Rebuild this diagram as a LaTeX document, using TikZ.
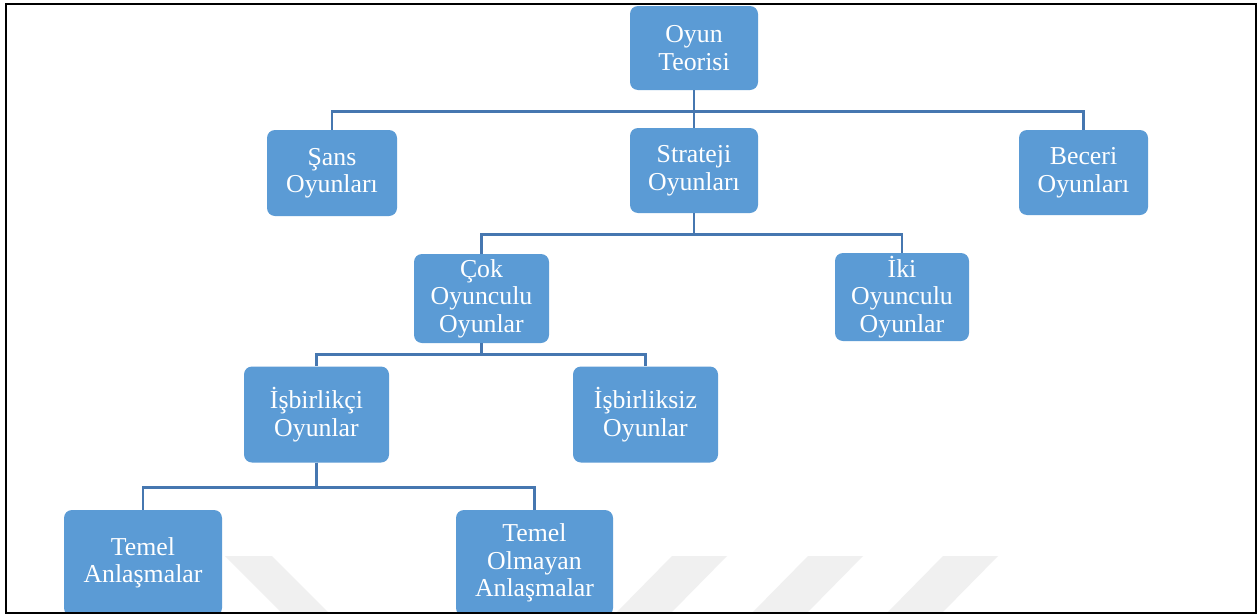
\documentclass[tikz,border=0pt]{standalone}
\usepackage{fontspec}
\setmainfont{Liberation Serif}
\definecolor{boxblue}{HTML}{5B9BD5}
\definecolor{lineblue}{HTML}{4677B0}
\definecolor{wmgray}{HTML}{F0F0F0}
\begin{document}
\begin{tikzpicture}[x=1pt,y=-1pt,
  box/.style={fill=boxblue, rounded corners=8pt, text=white, align=center,
    inner sep=0pt, font=\fontsize{25.8}{27.5}\selectfont},
  conn/.style={draw=lineblue, line width=2.8pt},
  wm/.style={fill=wmgray, draw=none}]
\useasboundingbox (0,0) rectangle (1259,616);
\fill[white] (0,0) rectangle (1259,616);
\begin{scope}
\clip (6,4) rectangle (1256,613);
% watermark
\fill[wm] (225,556) -- (272,556) -- (330,614) -- (283,614) -- cycle;
\fill[wm] (672,556) -- (727,556) -- (670,614) -- (615,614) -- cycle;
\fill[wm] (808,556) -- (863,556) -- (806,614) -- (751,614) -- cycle;
\fill[wm] (943,556) -- (998,556) -- (941,614) -- (886,614) -- cycle;
% nodes
\node[box, minimum width=128pt, minimum height=84pt] (ot) at (694,48) {Oyun\\Teorisi};
\node[box, minimum width=130pt, minimum height=86pt] (sans) at (332,173) {Şans\\Oyunları};
\node[box, minimum width=128pt, minimum height=85pt] (strat) at (694,170.5) {Strateji\\Oyunları};
\node[box, minimum width=129pt, minimum height=85pt] (beceri) at (1083.5,172.5) {Beceri\\Oyunları};
\node[box, minimum width=135pt, minimum height=89pt] (cok) at (481.5,298.5) {Çok\\Oyunculu\\Oyunlar};
\node[box, minimum width=134pt, minimum height=88pt] (iki) at (902,297) {İki\\Oyunculu\\Oyunlar};
\node[box, minimum width=145pt, minimum height=96pt] (isb) at (316.5,414.5) {İşbirlikçi\\Oyunlar};
\node[box, minimum width=145pt, minimum height=96pt] (isz) at (645.5,414.5) {İşbirliksiz\\Oyunlar};
\node[box, minimum width=158pt, minimum height=106pt] (temel) at (143,563) {Temel\\Anlaşmalar};
\node[box, minimum width=157pt, minimum height=106pt] (temelo) at (534.5,563) {Temel\\Olmayan\\Anlaşmalar};
% connectors
\draw[conn] (ot.south) -- (strat.north);
\draw[conn] (ot.south) -- ++(0,21) -| (sans.north);
\draw[conn] (ot.south) -- ++(0,21) -| (beceri.north);
\draw[conn] (strat.south) -- ++(0,21) -| (cok.north);
\draw[conn] (strat.south) -- ++(0,21) -| (iki.north);
\draw[conn] (cok.south) -- ++(0,11) -| (isb.north);
\draw[conn] (cok.south) -- ++(0,11) -| (isz.north);
\draw[conn] (isb.south) -- ++(0,25) -| (temel.north);
\draw[conn] (isb.south) -- ++(0,25) -| (temelo.north);
\end{scope}
\draw[black, line width=2.2pt] (6,4) rectangle (1256,613);
\end{tikzpicture}
\end{document}
